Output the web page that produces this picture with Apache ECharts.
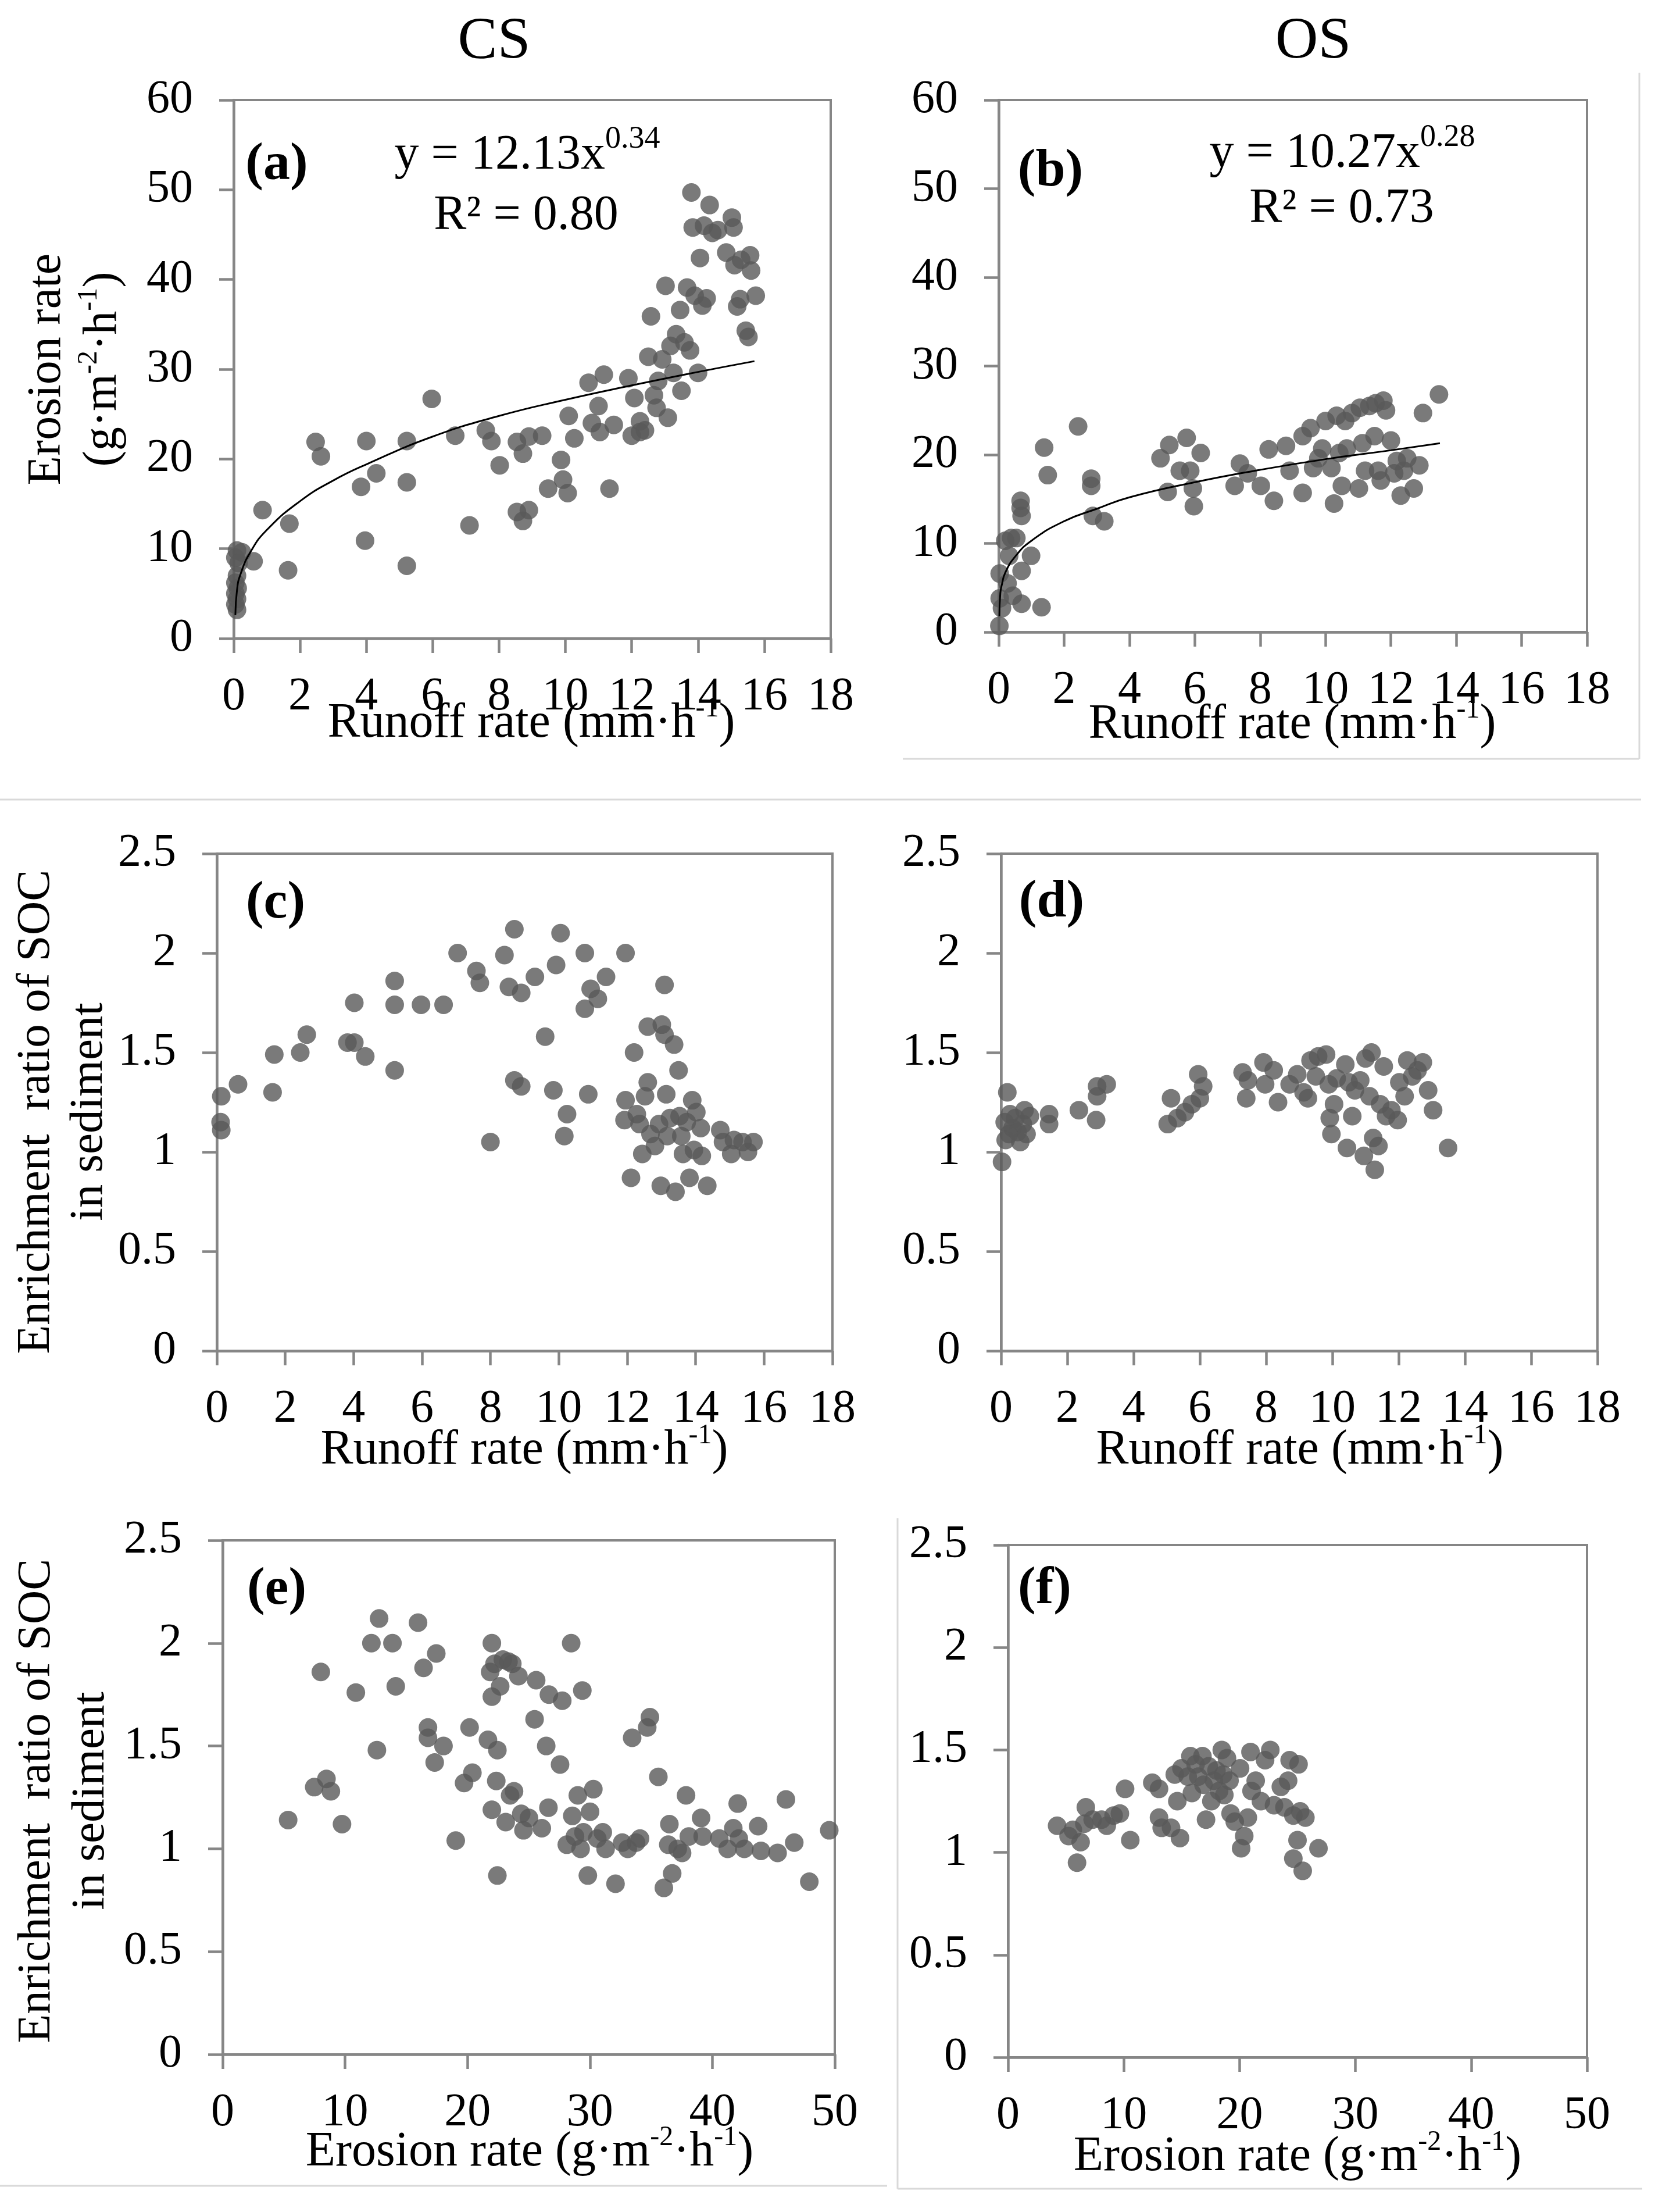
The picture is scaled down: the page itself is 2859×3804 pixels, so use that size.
<!DOCTYPE html>
<html>
<head>
<meta charset="UTF-8">
<title>Runoff, erosion and SOC enrichment</title>
<script src="https://cdn.jsdelivr.net/npm/echarts@6/dist/echarts.min.js"></script>
<style>
  html, body { margin: 0; padding: 0; background: #fff; }
  #chart { width: 2859px; height: 3804px; }
</style>
</head>
<body>
<div id="chart"></div>
<script>
// ---- data: [x, y] pairs ----
// (a) CS: runoff rate (mm/h) vs erosion rate (g/m2/h)
var csRunoffErosion = [
  [0.1,9.8],[0.25,9.6],[0.05,9.0],[0.15,8.4],[0.1,7.0],[0.05,6.2],[0.12,5.6],[0.05,5.0],[0.1,4.4],[0.05,3.8],
  [0.1,3.2],[0.6,8.6],[0.87,14.3],[1.68,12.8],[1.64,7.6],[2.47,21.9],[2.63,20.3],[3.84,16.9],[3.96,10.9],[4.0,22.0],
  [4.3,18.4],[5.22,22.0],[5.22,17.4],[5.22,8.1],[5.97,26.7],[6.68,22.6],[7.11,12.6],[7.6,23.2],[7.77,22.0],[8.02,19.3],
  [8.54,21.9],[8.54,14.1],[8.72,20.6],[8.72,13.1],[8.9,14.3],[8.9,22.5],[9.3,22.6],[9.48,16.7],[9.87,19.9],[9.93,17.7],
  [10.07,16.2],[10.1,24.8],[10.27,22.3],[10.7,28.5],[10.8,24.0],[11.0,25.9],[11.04,23.0],[11.16,29.4],[11.33,16.7],[11.46,23.8],
  [11.9,29.0],[12.0,22.6],[12.08,26.8],[12.25,24.2],[12.25,23.0],[12.4,23.2],[12.5,31.4],[12.58,35.9],[12.67,27.1],[12.75,25.7],
  [12.8,28.7],[12.92,31.1],[13.02,39.3],[13.09,24.6],[13.17,32.6],[13.26,29.6],[13.34,33.9],[13.46,36.6],[13.5,27.6],[13.59,33.0],
  [13.67,39.1],[13.76,32.1],[13.8,49.7],[13.84,45.8],[13.9,38.2],[14.0,29.6],[14.06,42.4],[14.13,37.1],[14.18,46.0],[14.26,37.9],
  [14.35,48.3],[14.43,45.2],[14.6,45.5],[14.85,43.0],[15.02,46.9],[15.07,45.8],[15.1,41.6],[15.18,37.0],[15.27,37.8],[15.3,42.2],
  [15.44,34.3],[15.52,33.6],[15.57,42.7],[15.6,41.0],[15.74,38.2]
];
// fitted power curve as drawn in (a)
var csTrend = [
  [0.05,2.6],[0.1,5.4],[0.2,7.1],[0.5,9.6],[1,12.1],[2,15.3],[3,17.6],[4,19.4],[6,22.5],
  [8,24.8],[10,26.6],[12,28.2],[14,29.7],[15.7,30.9]
];

// (b) OS: runoff rate vs erosion rate
var osRunoffErosion = [
  [0.02,0.7],[0.03,6.6],[0.03,3.8],[0.1,2.7],[0.2,10.3],[0.27,5.5],[0.32,8.6],[0.38,10.6],[0.43,4.1],[0.54,10.6],
  [0.67,14.8],[0.67,14.0],[0.7,13.1],[0.7,6.9],[0.7,3.2],[0.99,8.6],[1.31,2.8],[1.39,20.8],[1.5,17.7],[2.43,23.2],
  [2.83,17.3],[2.83,16.5],[2.88,13.1],[3.23,12.5],[4.95,19.6],[5.22,21.1],[5.17,15.8],[5.54,18.2],[5.75,21.9],[5.86,18.2],
  [5.94,16.2],[5.97,14.2],[6.18,20.2],[7.22,16.5],[7.38,19.0],[7.62,17.9],[8.02,16.5],[8.26,20.6],[8.42,14.8],[8.79,21.0],
  [8.9,18.2],[9.3,15.7],[9.3,22.1],[9.54,23.0],[9.62,18.5],[9.78,19.6],[9.9,20.7],[10.0,23.8],[10.18,18.5],[10.26,14.5],
  [10.34,24.4],[10.42,20.2],[10.5,16.5],[10.6,23.8],[10.65,20.7],[10.81,24.7],[11.02,16.2],[11.05,25.3],[11.13,21.3],[11.21,18.2],
  [11.34,25.5],[11.5,22.1],[11.53,25.8],[11.61,18.2],[11.69,17.1],[11.77,26.1],[11.85,25.0],[12.0,21.6],[12.1,17.9],[12.18,19.3],
  [12.3,15.4],[12.4,18.2],[12.5,19.6],[12.7,16.2],[12.87,18.8],[12.98,24.7],[13.47,26.8]
];
var osTrend = [
  [0.02,1.8],[0.05,4.4],[0.1,5.4],[0.2,6.7],[0.5,8.5],[1,10.3],[2,12.5],[3,13.9],[4,15.2],
  [6,16.9],[8,18.3],[10,19.5],[12,20.5],[13.5,21.3]
];

// (c) CS: runoff rate vs enrichment ratio of SOC
var csRunoffER = [
  [0.13,1.28],[0.11,1.15],[0.13,1.11],[0.62,1.34],[1.63,1.30],[1.68,1.49],[2.44,1.50],[2.63,1.59],[3.82,1.55],[4.02,1.75],
  [4.02,1.55],[4.34,1.48],[5.2,1.86],[5.2,1.74],[5.2,1.41],[5.97,1.74],[6.63,1.74],[7.04,2.0],[7.59,1.91],[7.69,1.85],
  [8.0,1.05],[8.41,1.99],[8.54,1.83],[8.7,2.12],[8.7,1.36],[8.9,1.33],[8.9,1.80],[9.3,1.88],[9.6,1.58],[9.84,1.31],
  [9.92,1.94],[10.05,2.10],[10.16,1.08],[10.24,1.19],[10.76,2.0],[10.76,1.72],[10.86,1.29],[10.93,1.82],[11.14,1.77],[11.38,1.88],
  [11.95,2.0],[11.95,1.26],[11.92,1.16],[12.11,0.87],[12.2,1.50],[12.28,1.19],[12.36,1.14],[12.44,0.99],[12.52,1.28],[12.6,1.63],
  [12.6,1.35],[12.68,1.09],[12.81,1.03],[12.93,1.14],[12.98,0.83],[13.01,1.64],[13.09,1.59],[13.09,1.84],[13.14,1.29],[13.17,1.08],
  [13.25,1.17],[13.37,1.54],[13.41,0.80],[13.5,1.41],[13.53,1.18],[13.58,1.08],[13.63,0.99],[13.74,1.15],[13.82,0.87],[13.9,1.26],
  [13.95,1.01],[14.02,1.20],[14.15,1.12],[14.18,0.98],[14.34,0.83],[14.72,1.11],[14.8,1.05],[15.04,0.99],[15.12,1.06],[15.37,1.05],
  [15.53,1.0],[15.69,1.05]
];

// (d) OS: runoff rate vs enrichment ratio of SOC
var osRunoffER = [
  [0.03,0.95],[0.11,1.15],[0.19,1.30],[0.14,1.06],[0.24,1.09],[0.27,1.19],[0.35,1.12],[0.43,1.17],[0.5,1.10],[0.58,1.05],
  [0.66,1.14],[0.71,1.21],[0.77,1.09],[0.87,1.18],[1.45,1.19],[1.45,1.14],[2.35,1.21],[2.87,1.16],[2.9,1.28],[2.9,1.33],
  [3.19,1.34],[5.03,1.14],[5.13,1.27],[5.32,1.17],[5.55,1.20],[5.76,1.24],[5.95,1.39],[6.0,1.27],[6.1,1.33],[7.29,1.40],
  [7.4,1.27],[7.45,1.36],[7.92,1.45],[7.97,1.34],[8.23,1.41],[8.36,1.25],[8.71,1.34],[8.94,1.39],[9.13,1.30],[9.26,1.27],
  [9.34,1.46],[9.5,1.38],[9.57,1.48],[9.81,1.49],[9.89,1.34],[9.92,1.17],[9.97,1.09],[10.05,1.24],[10.13,1.37],[10.39,1.44],
  [10.44,1.02],[10.49,1.35],[10.6,1.18],[10.68,1.31],[10.84,1.36],[10.95,0.98],[11.0,1.47],[11.12,1.28],[11.18,1.50],[11.23,1.07],
  [11.28,0.91],[11.39,1.03],[11.44,1.24],[11.55,1.43],[11.62,1.18],[11.78,1.21],[11.97,1.16],[12.02,1.35],[12.18,1.28],[12.26,1.46],
  [12.41,1.38],[12.57,1.41],[12.73,1.45],[12.89,1.31],[13.04,1.21],[13.49,1.02]
];

// (e) CS: erosion rate vs enrichment ratio of SOC
var csErosionER = [
  [5.35,1.14],[7.48,1.30],[8.02,1.86],[8.48,1.34],[8.84,1.28],[9.75,1.12],[10.88,1.76],[12.15,2.0],[12.6,1.48],[12.78,2.12],
  [13.87,2.0],[14.14,1.79],[15.96,2.10],[16.41,1.88],[16.77,1.59],[16.77,1.54],[17.32,1.42],[17.45,1.95],[18.04,1.50],[19.04,1.04],
  [19.72,1.32],[20.17,1.59],[20.4,1.37],[21.67,1.53],[21.85,1.86],[21.99,2.0],[21.99,1.74],[21.99,1.19],[22.21,1.90],[22.35,1.33],
  [22.44,1.48],[22.44,0.87],[22.67,1.79],[22.89,1.92],[23.12,1.13],[23.35,1.91],[23.48,1.26],[23.66,1.90],[23.8,1.28],[24.16,1.84],
  [24.39,1.17],[24.57,1.09],[25.02,1.15],[25.61,1.82],[25.48,1.63],[26.07,1.10],[26.43,1.50],[26.61,1.20],[26.65,1.75],[27.56,1.41],
  [27.74,1.72],[28.11,1.02],[28.47,2.0],[28.56,1.16],[28.78,1.06],[29.01,1.26],[29.24,1.0],[29.38,1.77],[29.47,1.08],[29.83,0.87],
  [30.01,1.18],[30.28,1.29],[30.6,1.05],[31.05,1.08],[31.28,1.0],[32.09,0.83],[32.64,1.03],[33.09,1.0],[33.45,1.54],[33.77,1.03],
  [34.09,1.05],[34.68,1.59],[34.9,1.64],[35.59,1.35],[36.04,0.81],[36.49,1.12],[36.4,1.02],[36.72,0.88],[37.17,1.0],[37.53,0.98],
  [37.85,1.26],[38.08,1.06],[39.08,1.15],[39.21,1.06],[40.57,1.05],[41.25,1.0],[41.71,1.10],[42.07,1.22],[42.16,1.05],[42.61,1.0],
  [43.74,1.11],[43.97,0.99],[45.33,0.98],[46.01,1.24],[46.69,1.03],[47.92,0.84],[49.55,1.09]
];

// (f) OS: erosion rate vs enrichment ratio of SOC
var osErosionER = [
  [4.24,1.13],[5.23,1.08],[5.6,1.11],[5.96,0.95],[6.27,1.05],[6.59,1.14],[6.72,1.22],[7.31,1.16],[8.08,1.16],[8.53,1.13],
  [9.12,1.18],[9.66,1.19],[10.11,1.31],[10.56,1.06],[12.46,1.34],[13.04,1.17],[13.04,1.31],[13.27,1.12],[14.08,1.12],[14.4,1.38],
  [14.85,1.07],[14.62,1.25],[14.98,1.41],[15.52,1.37],[15.75,1.47],[15.88,1.29],[16.2,1.43],[16.43,1.37],[16.79,1.47],[16.88,1.33],
  [17.1,1.16],[17.33,1.42],[17.56,1.25],[17.78,1.35],[18.0,1.40],[18.23,1.30],[18.46,1.50],[18.59,1.38],[18.68,1.28],[18.91,1.46],
  [19.13,1.35],[19.22,1.19],[19.58,1.15],[20.04,1.41],[20.13,1.02],[20.4,1.08],[20.71,1.17],[20.94,1.49],[21.03,1.30],[21.39,1.35],
  [21.84,1.25],[22.2,1.45],[22.65,1.50],[22.97,1.23],[23.56,1.32],[23.87,1.22],[24.19,1.35],[24.32,1.45],[24.64,1.18],[25.0,1.06],
  [25.09,1.43],[24.64,0.97],[25.23,1.20],[25.45,0.91],[25.68,1.17],[26.81,1.02]
];

// axis ranges and tick labels
var runoffTicks = [0, 2, 4, 6, 8, 10, 12, 14, 16, 18];
var erosionTicks = [0, 10, 20, 30, 40, 50];
var erosionRateTicks = [0, 10, 20, 30, 40, 50, 60];
var ratioTicks = [0, 0.5, 1, 1.5, 2, 2.5];

var FONT = 'Liberation Serif';
var AXIS_GRAY = '#868686';
var DOT = '#595959';

var grids = [
  { left: 402,  top: 172,  width: 1027, height: 926 },  // a
  { left: 1718, top: 172,  width: 1012, height: 915 },  // b
  { left: 373,  top: 1468, width: 1059, height: 855 },  // c
  { left: 1722, top: 1468, width: 1026, height: 855 },  // d
  { left: 383,  top: 2649, width: 1053, height: 884 },  // e
  { left: 1734, top: 2657, width: 996,  height: 881 }   // f
];

function axisCommon(ticks) {
  return {
    type: 'value',
    min: ticks[0],
    max: ticks[ticks.length - 1],
    interval: ticks[1] - ticks[0],
    splitLine: { show: false },
    axisLine: { show: true, lineStyle: { color: AXIS_GRAY, width: 4.5 } },
    axisTick: { show: true, inside: false, length: 25, lineStyle: { color: AXIS_GRAY, width: 4.5 } }
  };
}
function xAx(i, ticks) {
  var a = axisCommon(ticks);
  a.gridIndex = i;
  a.axisLabel = { margin: 61, fontSize: 80, fontFamily: FONT, color: '#000' };
  return a;
}
function yAx(i, ticks) {
  var a = axisCommon(ticks);
  a.gridIndex = i;
  a.axisLabel = { margin: 70, fontSize: 80, fontFamily: FONT, color: '#000' };
  return a;
}
function dots(i, data) {
  return {
    type: 'scatter', xAxisIndex: i, yAxisIndex: i, data: data,
    symbol: 'circle', symbolSize: 32, itemStyle: { color: DOT }, silent: true, z: 2
  };
}
function trend(i, data) {
  return {
    type: 'line', xAxisIndex: i, yAxisIndex: i, data: data, smooth: true,
    showSymbol: false, lineStyle: { color: '#000', width: 3 }, silent: true, z: 3
  };
}

function label(x, y, text, size, extra, supSize) {
  var st = {
    text: text, fontSize: size, fontFamily: FONT, fill: '#000',
    align: 'center', verticalAlign: 'middle', lineHeight: size * 1.2,
    rich: { s: { fontSize: supSize || 48, fontFamily: FONT, fill: '#000', lineHeight: 40, verticalAlign: 'top' } }
  };
  if (extra) for (var k in extra) st[k] = extra[k];
  return { type: 'text', x: x, y: y, style: st, z: 10 };
}
function frameLine(x1, y1, x2, y2) {
  return { type: 'line', shape: { x1: x1, y1: y1, x2: x2, y2: y2 },
           style: { stroke: '#d9d9d9', lineWidth: 3 }, z: 0 };
}

var runoffTitle = 'Runoff rate (mm·h{s|-1})';
var erosionTitle = 'Erosion rate (g·m{s|-2}·h{s|-1})';
var bold = { fontWeight: 'bold' };
var titleStyle = { lineHeight: 100 };

var graphics = [
  frameLine(2820, 125, 2820, 1305),
  frameLine(1553, 1305, 2820, 1305),
  frameLine(0, 1375, 2823, 1375),
  frameLine(0, 3759, 1526, 3759),
  frameLine(1544, 2611, 1544, 3764),
  frameLine(1544, 3764, 2825, 3764),

  label(850, 73, 'CS', 102),
  label(2259, 73, 'OS', 102),

  label(476, 284, '(a)', 92, bold),
  label(1807, 295, '(b)', 92, bold),
  label(474, 1554, '(c)', 92, bold),
  label(1809, 1552, '(d)', 92, bold),
  label(476, 2734, '(e)', 92, bold),
  label(1797, 2733, '(f)', 92, bold),

  label(907, 268, 'y = 12.13x{s|0.34}', 84, { lineHeight: 110 }, 54),
  label(905, 372, 'R² = 0.80', 84),
  label(2309, 265, 'y = 10.27x{s|0.28}', 84, { lineHeight: 110 }, 54),
  label(2308, 360, 'R² = 0.73', 84),

  label(914, 1245, runoffTitle, 84, titleStyle),
  label(2223, 1247, runoffTitle, 84, titleStyle),
  label(902, 2495, runoffTitle, 84, titleStyle),
  label(2236, 2495, runoffTitle, 84, titleStyle),
  label(911, 3702, erosionTitle, 84, titleStyle),
  label(2232, 3710, erosionTitle, 84, titleStyle)
];
// rotated y-axis titles (two lines each)
var yt1 = label(129, 635, 'Erosion rate\n(g·m{s|-2}·h{s|-1})', 82, { lineHeight: 96 });
yt1.rotation = Math.PI / 2;
var yt2 = label(108, 1912, 'Enrichment  ratio of SOC\nin sediment', 81, { lineHeight: 91 });
yt2.rotation = Math.PI / 2;
var yt3 = label(110, 3097, 'Enrichment  ratio of SOC\nin sediment', 81, { lineHeight: 93 });
yt3.rotation = Math.PI / 2;
graphics.push(yt1, yt2, yt3);

var chart = echarts.init(document.getElementById('chart'), null, { renderer: 'canvas' });
chart.setOption({
  backgroundColor: '#fff',
  animation: false,
  grid: grids.map(function (g) {
    return { left: g.left, top: g.top, width: g.width, height: g.height,
             show: true, borderColor: AXIS_GRAY, borderWidth: 4, backgroundColor: 'transparent' };
  }),
  xAxis: [
    xAx(0, runoffTicks), xAx(1, runoffTicks), xAx(2, runoffTicks),
    xAx(3, runoffTicks), xAx(4, erosionTicks), xAx(5, erosionTicks)
  ],
  yAxis: [
    yAx(0, erosionRateTicks), yAx(1, erosionRateTicks), yAx(2, ratioTicks),
    yAx(3, ratioTicks), yAx(4, ratioTicks), yAx(5, ratioTicks)
  ],
  series: [
    dots(0, csRunoffErosion), trend(0, csTrend),
    dots(1, osRunoffErosion), trend(1, osTrend),
    dots(2, csRunoffER),
    dots(3, osRunoffER),
    dots(4, csErosionER),
    dots(5, osErosionER)
  ],
  graphic: graphics
});
</script>
</body>
</html>
